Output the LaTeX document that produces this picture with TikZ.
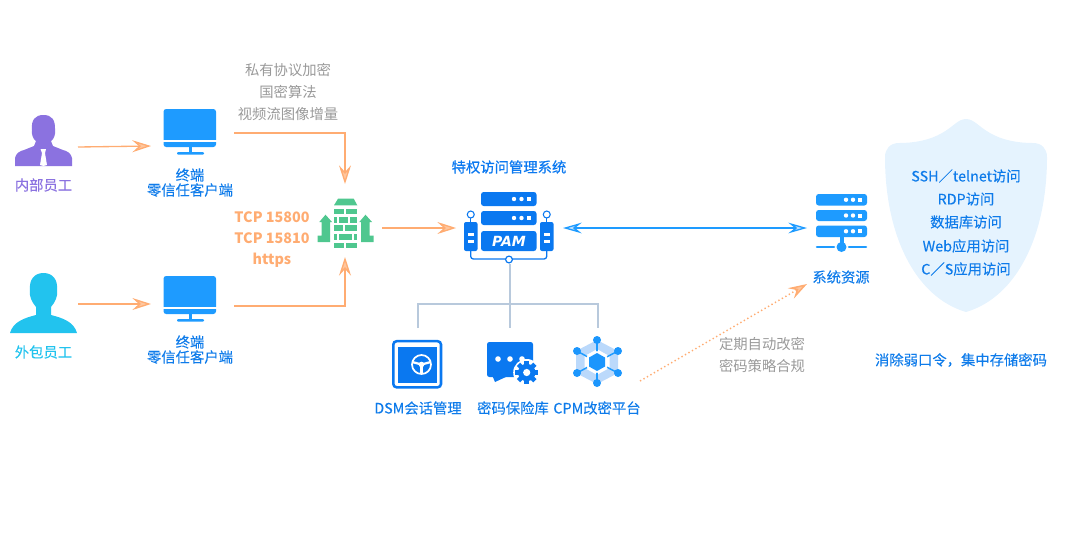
\documentclass[tikz,border=0pt]{standalone}
\usepackage{fontspec}
\usetikzlibrary{arrows.meta,calc}
\setmainfont[FakeBold=0.12,AutoFakeBold=false]{Noto Sans CJK SC}
\newfontfamily\thinfont{Noto Sans CJK SC}
\newfontfamily\strongfont[FakeBold=0.55]{Noto Sans CJK SC}
\newfontfamily\pamfont{DejaVu Sans}
\definecolor{flowOrange}{HTML}{FFAC72}
\definecolor{tipOrange}{HTML}{FFC79E}
\definecolor{labelBlue}{HTML}{0E7BEA}
\definecolor{iconBlue}{HTML}{1E9BFF}
\definecolor{pamBlue}{HTML}{0A78F0}
\definecolor{staffPurple}{HTML}{8B72E0}
\definecolor{staffCyan}{HTML}{22C3EE}
\definecolor{wallGreen}{HTML}{4FC78F}
\definecolor{treeGrey}{HTML}{B8C9DC}
\definecolor{noteGrey}{HTML}{999999}
\definecolor{shieldBlue}{HTML}{E5F3FE}
\definecolor{hexLight}{HTML}{BBD9FB}
\definecolor{tipBlue}{HTML}{BFE0FF}
\tikzset{
  txt/.style={font=\fontsize{10.75pt}{12pt}\selectfont,inner sep=0pt,text=labelBlue},
  note/.style={txt,text=noteGrey,font=\thinfont\fontsize{10.75pt}{12pt}\selectfont},
  port/.style={txt,text=flowOrange,font=\thinfont\fontsize{10.75pt}{12pt}\selectfont\bfseries},
  slot/.style={inner sep=0pt,outer sep=0pt,minimum width=#1},
  flow/.style={draw=flowOrange,line width=1pt,-{Stealth[length=14pt,width=9pt,inset=5pt,open,fill=tipOrange]}},
  sync/.style={draw=iconBlue,line width=1pt,{Stealth[length=14pt,width=8pt,inset=5pt,open,fill=tipBlue]}-{Stealth[length=14pt,width=8pt,inset=5pt,open,fill=tipBlue]}},
  tree/.style={draw=treeGrey,line width=1.5pt},
}
% Desktop monitor, #1 is its top edge
\newcommand{\monitor}[1]{%
  \fill[iconBlue,rounded corners=2pt] (163.5,#1) rectangle ++(52.5,38);
  \fill[white] (163,#1+31) rectangle ++(54,2);
  \fill[iconBlue] (188.5,#1+38) rectangle ++(3,6);
  \fill[iconBlue,rounded corners=.8pt] (177,#1+43) rectangle ++(27,2.6);
}
% One server bar with status dots: x0,x1,y0,y1,colour,dot spacing
\newcommand{\rack}[6]{%
  \fill[#5,rounded corners=2pt] (#1,#3) rectangle (#2,#4);
  \fill[white] ($(#2-3*#6,{(#3+#4)/2})$) circle (2.2);
  \fill[white] ($(#2-2*#6,{(#3+#4)/2})$) circle (2.2);
  \fill[white] ($(#2-#6-2,{(#3+#4)/2-2})$) rectangle ++(4,4);
}
\begin{document}
\begin{tikzpicture}[x=.75pt,y=-.75pt]
\useasboundingbox (0,0) rectangle (1080,540);

% Layout anchors of the icons
\node[slot=49.5pt,minimum height=38pt] (staffA) at (45,147) {};
\node[slot=49.5pt,minimum height=38pt] (staffB) at (45,304) {};
\node[slot=58.5pt,minimum height=30pt] (termA) at (190,146) {};
\node[slot=58.5pt,minimum height=30pt] (termB) at (190,304) {};
\node[slot=55.5pt,minimum height=54.75pt] (wall) at (345,220.5) {};
\node[slot=80.25pt,minimum height=54pt] (pam) at (509.5,228) {};
\node[slot=51pt,minimum height=30pt] (res) at (841,228) {};
\node[slot=64.5pt,minimum height=28.5pt] (cpm) at (597,362) {};
\coordinate (termAout) at (234,133);
\coordinate (termBout) at (234,306);
\coordinate (bus) at (509.5,304);
\coordinate (dsmTop) at (417.5,328);
\coordinate (vaultTop) at (509.5,328);
\coordinate (cpmTop) at (597.5,328);
\coordinate (resIn) at (807,284);

% Staff silhouette, internal
\fill[staffPurple] (15,166) -- (15,158) .. controls (16,153) and (20,151) .. (24,150)
  -- (34,146) -- (36,141) .. controls (33,139) and (31.5,135) .. (32,130)
  .. controls (31,120) and (35,115) .. (43.5,115) .. controls (52,115) and (55.5,120) .. (55,130)
  .. controls (55.5,135) and (54,139) .. (51,141) -- (53,146) -- (63,150)
  .. controls (67,151) and (71,153) .. (72,158) -- (72,166) -- cycle;
\fill[white] (40.5,149) -- (46,149) -- (45,153) -- (47,165) -- (43.5,166) -- (40,165) -- (42,153) -- cycle;
\node[txt,text=staffPurple] (staffAname) at (43.5,185) {内部员工};

% Staff silhouette, outsourced
\fill[staffCyan] (10,333) .. controls (13,322) and (24,318) .. (36,315) -- (36,307)
  .. controls (32,302) and (29,297) .. (30,290) .. controls (29,280) and (34,273) .. (43.5,273)
  .. controls (53,273) and (58,280) .. (57,290) .. controls (58,297) and (55,302) .. (51,307)
  -- (51,315) .. controls (63,318) and (74,322) .. (77,333) -- cycle;
\node[txt,text=staffCyan] (staffBname) at (43.5,352) {外包员工};

% Client terminals
\monitor{109}
\monitor{276}
\node[txt] (termAa) at (190,175) {终端};
\node[txt] (termAb) at (190,190) {零信任客户端};
\node[txt] (termBa) at (190,342) {终端};
\node[txt] (termBb) at (190,357) {零信任客户端};

% Connection notes
\node[note] (n1) at (288,70) {私有协议加密};
\node[note] (n2) at (288,92) {国密算法};
\node[note] (n3) at (288,114) {视频流图像增量};
\node[port] (p1) at (272,217) {TCP 15800};
\node[port] (p2) at (272,238.5) {TCP 15810};
\node[port] (p3) at (272,260.5) {https};

% Firewall: roof, brick courses, side arrows
\fill[wallGreen] (334,205.3) -- (338,198.7) -- (353.7,198.7) -- (357.3,205.3) -- cycle;
\foreach \y/\h/\xs in {208.7/5.7/{334/344.3,346.3/357},
                    217/5.7/{334/336.7,339/347.7,349.7/357},
                    225.3/6/{334/343.3,345.3/357},
                    233.7/6/{334/336.7,339/352,354/357},
                    242.5/5.6/{334/344.3,346.3/357}}{
  \foreach \a/\b in \xs { \fill[wallGreen] (\a,\y) rectangle (\b,\y+\h); }
}
\fill[wallGreen] (317.7,242) -- (317.7,235.5) -- (321.5,235.5) -- (321.5,222) -- (319.3,222) -- (325.5,214.7)
  -- (332,222) -- (330,222) -- (330,242) -- cycle;
\fill[wallGreen] (373.7,242) -- (373.7,235.5) -- (369.5,235.5) -- (369.5,222) -- (372,222) -- (365.5,214.7)
  -- (359.3,222) -- (361,222) -- (361,242) -- cycle;

% PAM appliance
\node[txt,text=pamBlue,font=\strongfont\fontsize{10.75pt}{12pt}\selectfont] (pamTitle) at (509,167) {特权访问管理系统};
\rack{481}{536.5}{192}{206}{pamBlue}{7.5}
\rack{481}{536.5}{211}{225}{pamBlue}{7.5}
\fill[pamBlue,rounded corners=2pt] (481,231) rectangle (536.5,251);
\node[text=white,inner sep=0pt,font=\pamfont\fontsize{10.5pt}{11pt}\selectfont\bfseries\itshape] (pamWord) at (509,241) {PAM};
\foreach \x in {464,540}{
  \fill[pamBlue,rounded corners=1.5pt] (\x,222) rectangle ++(13.5,29);
  \fill[white] (\x+3.5,233) rectangle ++(6.5,3);
  \fill[white] (\x+3.5,240) rectangle ++(6.5,3);
  \draw[pamBlue,line width=.8pt] (\x+6.75,218) -- (\x+6.75,222);
  \draw[pamBlue,line width=.8pt,fill=white] (\x+6.75,214.5) circle (3.5);
}
\draw[pamBlue,line width=1pt,rounded corners=2pt] (470.7,251) -- (470.7,259) -- (546.7,259) -- (546.7,251);
\draw[pamBlue,line width=.9pt,fill=white] (509,259.5) circle (3.4);

% Branches below the appliance
\draw[tree] (pam.south) -- (vaultTop);
\draw[tree] (dsmTop) |- (bus) -| (cpmTop);

% Session safe
\draw[pamBlue,line width=1.9pt,rounded corners=2.5pt] (393.3,341.2) rectangle (441,387.3);
\fill[pamBlue] (398,346.5) rectangle (436.7,382.5);
\draw[white,line width=1.3pt] (421.5,364.5) circle (9.5);
\fill[white] (421.5,364.5) circle (2.8);
\foreach \a in {90,195,345}{
  \draw[white,line width=1.7pt] (421.5,364.5) -- ($(421.5,364.5)+(\a:9.5)$);
}
\node[txt] (dsm) at (418,408) {DSM会话管理};

% Password vault
\fill[pamBlue,rounded corners=1.8pt] (487,342) rectangle (533,377);
\fill[pamBlue] (492,375) -- (495,382) -- (508,376) -- cycle;
\fill[white] (526.7,372.5) circle (13.5);
\foreach \x in {498,510,522}{ \fill[white] (\x,359) circle (2.8); }
\foreach \a in {0,45,...,315}{
  \fill[pamBlue,rotate around={\a:(526.7,372.5)}] (524.4,360.9) rectangle (529,366);
}
\fill[pamBlue] (526.7,372.5) circle (8.7);
\fill[white] (526.7,372.5) circle (3.6);
\node[txt] (vaultName) at (513,408) {密码保险库};

% Password-change platform
\fill[hexLight,even odd rule] (597,340) -- (618,351) -- (618,373) -- (597,384) -- (576,373) -- (576,351) -- cycle
  (597,349) -- (609.5,356) -- (609.5,368) -- (597,375) -- (584.5,368) -- (584.5,356) -- cycle;
\foreach \x/\y in {597/340,618/351,618/373,597/383,577/373,577/351}{
  \draw[iconBlue,line width=1.1pt] (597,362) -- (\x,\y);
  \fill[iconBlue!85!pamBlue] (\x,\y) circle (4);
}
\fill[white] (597,351) -- (607,356.5) -- (607,367.5) -- (597,373) -- (587,367.5) -- (587,356.5) -- cycle;
\fill[iconBlue!85!pamBlue] (597,353) -- (605,357.5) -- (605,366.5) -- (597,371) -- (589,366.5) -- (589,357.5) -- cycle;
\node[txt] (cpmName) at (597,408) {CPM改密平台};

% Resource server
\rack{816}{867}{194}{205.5}{iconBlue}{7}
\rack{816}{867}{210}{221}{iconBlue}{7}
\rack{816}{867}{225.5}{237}{iconBlue}{7}
\fill[iconBlue] (839.5,237) rectangle (843.5,243);
\fill[iconBlue] (841.5,247) circle (5);
\draw[iconBlue,line width=1.9pt,line cap=round] (817,247) -- (834,247);
\draw[iconBlue,line width=1.9pt,line cap=round] (849,247) -- (866,247);
\node[txt] (resName) at (841,277) {系统资源};

% Shield with the access list
\fill[shieldBlue] (966,119) .. controls (958,119) and (953,127) .. (942,133)
  .. controls (930,140) and (915,143) .. (899,143)
  .. controls (890,143) and (885,149) .. (885,157)
  .. controls (885,235) and (915,297) .. (966,312)
  .. controls (1017,297) and (1047,235) .. (1047,157)
  .. controls (1047,149) and (1042,143) .. (1033,143)
  .. controls (1017,143) and (1002,140) .. (990,133)
  .. controls (979,127) and (974,119) .. (966,119) -- cycle;
\node[txt] (s1) at (966,176) {SSH／telnet访问};
\node[txt] (s2) at (966,199) {RDP访问};
\node[txt] (s3) at (966,222) {数据库访问};
\node[txt] (s4) at (966,246) {Web应用访问};
\node[txt] (s5) at (966,269) {C／S应用访问};
\node[txt] (slogan) at (961,360) {消除弱口令，集中存储密码};
\node[note] (n4) at (762,344) {定期自动改密};
\node[note] (n5) at (762,366) {密码策略合规};

% Connectors
\draw[flow] (staffA.east) -- (termA.west);
\draw[flow] (staffB.east) -- (termB.west);
\draw[flow] (termAout) -| (wall.north);
\draw[flow] (termBout) -| (wall.south);
\draw[flow] (wall.east |- pam.west) -- (pam.west);
\draw[sync] (pam.east) -- (res.west);
\draw[flow,dotted,line width=1.1pt] (cpm.south east) -- (resIn);
\end{tikzpicture}
\end{document}
